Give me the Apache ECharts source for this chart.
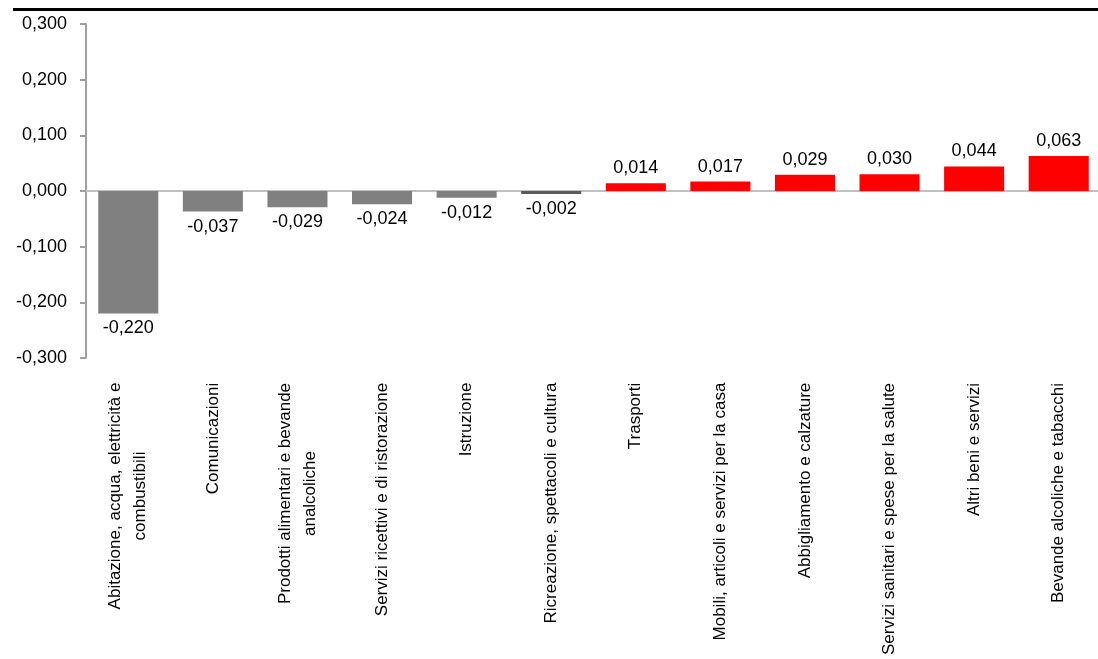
<!DOCTYPE html>
<html>
<head>
<meta charset="utf-8">
<script src="https://cdn.jsdelivr.net/npm/echarts@6/dist/echarts.min.js"></script>
<style>
html,body{margin:0;padding:0;background:#fff;}
#c{width:1098px;height:659px;}
</style>
</head>
<body>
<div id="c"></div>
<script>
const categories = [
  "Abitazione, acqua, elettricità e\ncombustibili",
  "Comunicazioni",
  "Prodotti alimentari e bevande\nanalcoliche",
  "Servizi ricettivi e di ristorazione",
  "Istruzione",
  "Ricreazione, spettacoli e cultura",
  "Trasporti",
  "Mobili, articoli e servizi per la casa",
  "Abbigliamento e calzature",
  "Servizi sanitari e spese per la salute",
  "Altri beni e servizi",
  "Bevande alcoliche e tabacchi"
];
const values = [-0.220, -0.037, -0.029, -0.024, -0.012, -0.002, 0.014, 0.017, 0.029, 0.030, 0.044, 0.063];
const yTicks = { min: -0.3, max: 0.3, interval: 0.1 };

const FONT = "'Liberation Sans', Arial, sans-serif";
const catFontSize = 17;

const ctx = document.createElement('canvas').getContext('2d');
ctx.font = catFontSize + 'px ' + FONT;
const rich = {};
categories.forEach((c, i) => {
  const w = Math.max(...c.split('\n').map(l => ctx.measureText(l).width));
  rich['c' + i] = { width: Math.ceil(w) + 1, align: 'center', fontSize: catFontSize, fontFamily: FONT, lineHeight: 25, color: '#000' };
});

const fmt = v => v.toFixed(3).replace('.', ',');

const chart = echarts.init(document.getElementById('c'), null, { renderer: 'canvas' });
chart.setOption({
  animation: false,
  backgroundColor: '#fff',
  grid: { left: 86, top: 24, width: 1015, bottom: 301, containLabel: false, outerBoundsMode: 'none' },
  graphic: [{
    type: 'rect', left: 13, top: 8, shape: { width: 1085, height: 3 }, style: { fill: '#000' }, silent: true
  }],
  xAxis: [{
    type: 'category', data: categories, position: 'bottom',
    axisLine: { onZero: true, lineStyle: { color: '#c0c0c0', width: 2 } },
    axisTick: { show: false }, axisLabel: { show: false }
  }, {
    type: 'category', data: categories, position: 'bottom',
    axisLine: { show: false, onZero: false },
    axisTick: { show: false },
    axisLabel: {
      show: true, interval: 0, rotate: 90, margin: 24,
      formatter: (v, i) => v.split('\n').map(l => '{c' + i + '|' + l + '}').join('\n'),
      rich: rich
    }
  }],
  yAxis: {
    type: 'value', min: yTicks.min, max: yTicks.max, interval: yTicks.interval,
    axisLine: { show: true, lineStyle: { color: '#a0a0a0', width: 2 } },
    axisTick: { show: true, inside: false, length: 6, lineStyle: { color: '#a0a0a0', width: 2 } },
    splitLine: { show: false },
    axisLabel: { formatter: fmt, fontFamily: FONT, fontSize: 18, color: '#000', margin: 19 }
  },
  series: [{
    type: 'bar', xAxisIndex: 0,
    data: values.map(v => ({ value: v, label: { position: v < 0 ? 'bottom' : 'top' } })),
    barCategoryGap: '29%',
    barMinHeight: 3,
    itemStyle: {
      color: p => p.value >= 0 ? '#ff0000' : (p.dataIndex === 5 ? '#5a5a5a' : '#808080')
    },
    label: {
      show: true,
      distance: 6,
      fontFamily: FONT, fontSize: 18, color: '#000',
      formatter: p => fmt(p.value)
    }
  }]
});
</script>
</body>
</html>
